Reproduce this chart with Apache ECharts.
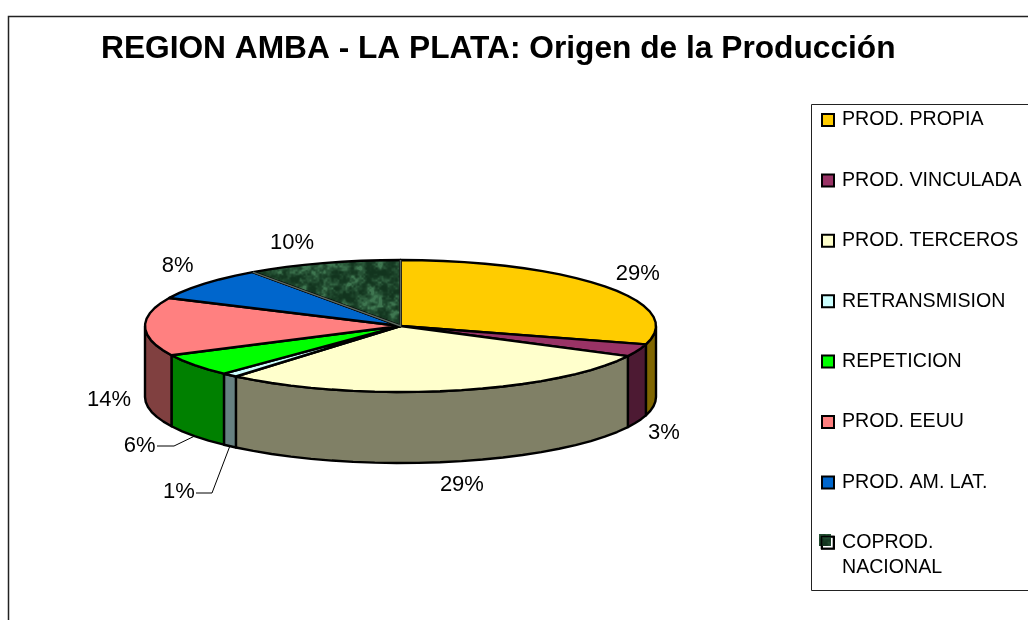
<!DOCTYPE html>
<html><head><meta charset="utf-8">
<style>html,body{margin:0;padding:0;background:#fff}#c{width:1028px;height:620px}</style>
<script src="https://cdn.jsdelivr.net/npm/echarts@6/dist/echarts.min.js"></script>
</head><body><div id="c"></div>
<script>
const titleText = 'REGION AMBA - LA PLATA: Origen de la Producción';
const categories = ['PROD. PROPIA','PROD. VINCULADA','PROD. TERCEROS','RETRANSMISION','REPETICION','PROD. EEUU','PROD. AM. LAT.','COPROD. NACIONAL'];
const shares = [29.49, 3.05, 28.6, 1.0, 5.55, 14.3, 8.2, 9.81];
const topColors = ['#FFCC00','#993366','#FFFFCC','#CCFFFF','#00FF00','#FF8080','#0066CC',null];
const wallColors = ['#806600','#4D1A33','#808066','#668080','#008000','#804040','#003366','#12301a'];
const labelOffsets = [[33,-12],[26,12],[11,23],[-51,46],[-55,10],[-36,2],[-27,-18],[-31,-20]];
const leaderElbows = {3:[[212,493],[196,493]], 4:[[174,446],[157,446]]};

const CX=400.5, CY=326, RX=255.5, RY=66, DEPTH=71;
const FONT='"Liberation Sans", Arial, sans-serif';

function marble(){
  const s=128, cv=document.createElement('canvas'); cv.width=cv.height=s;
  const g=cv.getContext('2d'), im=g.createImageData(s,s);
  // deterministic tiling value noise, for the fill texture only
  const hash=(x,y)=>{const v=Math.sin(x*127.1+y*311.7)*43758.5453;return v-Math.floor(v);};
  const noise=(x,y,p)=>{
    const xi=Math.floor(x),yi=Math.floor(y),f=x-xi,h=y-yi;
    const u=f*f*(3-2*f),v=h*h*(3-2*h);
    const w=(a,b)=>hash(((a%p)+p)%p,((b%p)+p)%p);
    return (w(xi,yi)*(1-u)+w(xi+1,yi)*u)*(1-v)+(w(xi,yi+1)*(1-u)+w(xi+1,yi+1)*u)*v;
  };
  for(let y=0;y<s;y++)for(let x=0;x<s;x++){
    const n=noise(x/8,y/8,16)*.45+noise(x/4,y/4,32)*.35+noise(x/2,y/2,64)*.2;
    const t=Math.max(0,Math.min(1,(n-.25)/.5));
    const i=(y*s+x)*4;
    im.data[i]=18+44*t*t; im.data[i+1]=52+66*t*t; im.data[i+2]=30+50*t*t; im.data[i+3]=255;
  }
  g.putImageData(im,0,0); return cv;
}
const marbleCv=marble();
const fills=topColors.map(c=>c||{image:marbleCv,repeat:'repeat'});

const total=shares.reduce((a,b)=>a+b,0);
let acc=0;
const spans=shares.map(v=>{const s=acc;acc+=v;return [s/total*2*Math.PI,acc/total*2*Math.PI];});
const px=(t,d=0)=>[CX+RX*Math.sin(t),CY-RY*Math.cos(t)+d];
function arc(a,b,d=0){
  const n=Math.max(1,Math.ceil((b-a)/(Math.PI/36))),p=[];
  for(let i=0;i<=n;i++)p.push(px(a+(b-a)*i/n,d));
  return p;
}
const stroke={stroke:'#000',lineWidth:2.4,lineJoin:'round'};

function render(idx){
  return function(params,api){
    const [a,b]=spans[idx], ch=[];
    const lo=Math.max(a,Math.PI/2), hi=Math.min(b,Math.PI*1.5);
    if(hi>lo){
      ch.push({type:'polygon',z2:1,shape:{points:arc(lo,hi).concat(arc(lo,hi,DEPTH).reverse())},
        style:Object.assign({fill:wallColors[idx]},stroke)});
    }
    ch.push({type:'polygon',z2:2,shape:{points:[[CX,CY]].concat(arc(a,b))},
      style:Object.assign({fill:fills[idx]},stroke)});
    if(!topColors[idx]){
      ch.push({type:'polyline',z2:3,shape:{points:[px(a),[CX,CY],px(b)]},
        style:{stroke:'#5c6a60',lineWidth:1.5,fill:'none'}});
    }
    const mid=(a+b)/2, front=Math.cos(mid)<0;
    const anchor=px(mid,front?DEPTH:0), off=labelOffsets[idx];
    ch.push({type:'text',z2:5,x:anchor[0]+off[0],y:anchor[1]+off[1],style:{text:Math.round(api.value(0)/total*100)+'%',
      font:'22px '+FONT,fill:'#000',align:'center',verticalAlign:'middle'}});
    if(leaderElbows[idx]){
      ch.push({type:'polyline',z2:4,shape:{points:[anchor].concat(leaderElbows[idx])},
        style:{stroke:'#000',lineWidth:1,fill:'none'}});
    }
    return {type:'group',children:ch};
  };
}

const series=categories.map((name,i)=>({
  type:'custom',name,coordinateSystem:'none',
  data:[[shares[i]]],
  itemStyle:{color:topColors[i]||'#fff',borderColor:'#000',borderWidth:1.6},
  renderItem:render(i),silent:true,animation:false
}));

const chart=echarts.init(document.getElementById('c'),null,{renderer:'canvas'});
chart.setOption({
  animation:false,
  backgroundColor:'#fff',
  title:{text:titleText,left:101,top:33,padding:0,textStyle:{fontFamily:FONT,fontWeight:'bold',fontSize:31.7,color:'#000'}},
  legend:{z:1,orient:'vertical',left:821,top:106,height:510,padding:0,itemWidth:12,itemHeight:12,itemGap:32.4,
    icon:'rect',selectedMode:false,data:categories,
    formatter:n=>n==='COPROD. NACIONAL'?'COPROD.':n,
    textStyle:{fontFamily:FONT,fontSize:19.6,color:'#000',padding:[0,0,0,3],lineHeight:28}},
  graphic:{z:10,elements:[
    {type:'rect',z:10,shape:{x:8.5,y:16.5,width:1100,height:700},style:{fill:'none',stroke:'#222',lineWidth:1.5},silent:true},
    {type:'rect',z:10,shape:{x:811.5,y:104.5,width:300,height:486},style:{fill:'none',stroke:'#222',lineWidth:1},silent:true},
    {type:'text',z:10,x:842,y:568,style:{text:'NACIONAL',font:'19.6px '+FONT,fill:'#000',verticalAlign:'middle'},silent:true},
    {type:'rect',z:10,z2:1,shape:{x:819,y:534,width:12,height:12},style:{fill:'#1f4a2c'},silent:true},
    {type:'rect',z:10,z2:2,shape:{x:819,y:534,width:12,height:12},style:{fill:{image:marbleCv,repeat:'repeat'}},silent:true},
    {type:'rect',z:10,z2:3,shape:{x:821.5,y:536.5,width:12,height:12},style:{fill:'none',stroke:'#000',lineWidth:1.6},silent:true}
  ]},
  series
});
</script></body></html>
